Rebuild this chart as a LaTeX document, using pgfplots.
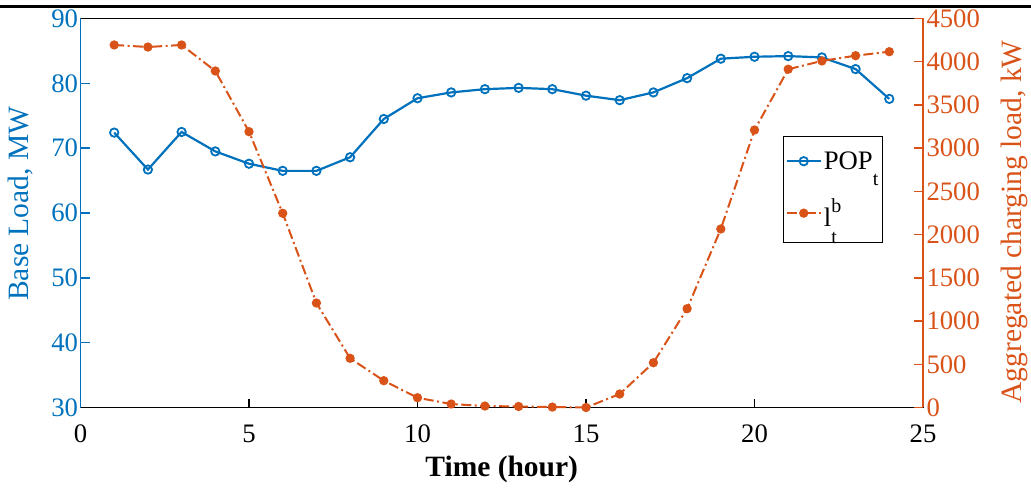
\documentclass[border=0pt]{standalone}
\usepackage{fontspec}
\setmainfont{Liberation Serif}
\usepackage{pgfplots}
\pgfplotsset{compat=1.18}
\definecolor{mblue}{rgb}{0,0.447,0.741}
\definecolor{morange}{rgb}{0.85,0.325,0.098}
\newcommand{\tfs}{\fontsize{26.7}{30}\selectfont}
\newcommand{\lfs}{\fontsize{29.5}{33}\selectfont}
\newcommand{\sfs}{\fontsize{20}{20}\selectfont}
\pgfplotstableread{
h pop
1 72.4
2 66.7
3 72.5
4 69.5
5 67.6
6 66.5
7 66.5
8 68.6
9 74.5
10 77.7
11 78.6
12 79.1
13 79.3
14 79.1
15 78.1
16 77.4
17 78.6
18 80.8
19 83.8
20 84.1
21 84.2
22 84.0
23 82.2
24 77.6
}\poptable
\pgfplotstableread{
h lb
1 4194
2 4170
3 4194
4 3893
5 3191
6 2247
7 1209
8 569
9 310
10 113
11 40
12 17
13 12
14 5
15 0
16 156
17 518
18 1143
19 2065
20 3210
21 3913
22 4009
23 4070
24 4116
}\lbtable
\begin{document}
\begin{tikzpicture}[x=1pt,y=1pt]
\path[use as bounding box] (0,0) rectangle (1031,490);
\fill[black] (0,482) rectangle (1031,485);
\begin{axis}[
  at={(80.5pt,82.5pt)}, anchor=south west,
  scale only axis, width=842.5pt, height=389pt,
  xmin=0, xmax=25, ymin=30, ymax=90,
  xtick={0,5,...,25}, ytick={30,40,...,90},
  axis x line=box, axis y line*=left,
  x axis line style={black, line width=1.4pt},
  y axis line style={mblue, line width=1.8pt},
  xtick pos=bottom, ytick pos=left,
  tick align=inside, major tick length=9pt,
  xtick style={black, line width=1.2pt},
  ytick style={mblue, line width=1.4pt},
  /pgf/number format/assume math mode=true,
  xticklabel style={font=\tfs, black, inner ysep=0pt, anchor=north, yshift=-17.5pt},
  yticklabel style={font=\tfs, mblue, xshift=1pt},
  every axis x label/.style={at={(rel axis cs:0.5,-0.16)}, anchor=center},
  every axis y label/.style={at={(rel axis cs:-0.0706,0.524)}, anchor=center, rotate=90},
  xlabel={\lfs\bfseries Time (hour)},
  ylabel={\lfs\color{mblue}Base Load, MW},
  clip=false,
]
\addplot[mblue, line width=2.2pt, mark=o, mark size=4.2pt, mark options={line width=1.8pt}] table[x=h,y=pop] {\poptable};
\end{axis}
\begin{axis}[
  at={(80.5pt,82.5pt)}, anchor=south west,
  scale only axis, width=842.5pt, height=389pt,
  xmin=0, xmax=25, ymin=0, ymax=4500,
  ytick={0,500,...,4500},
  axis x line=none, axis y line*=right,
  y axis line style={morange, line width=1.8pt},
  tick align=inside, major tick length=9pt,
  ytick style={morange, line width=1.4pt},
  scaled ticks=false,
  /pgf/number format/assume math mode=true,
  /pgf/number format/set thousands separator={},
  yticklabel style={font=\tfs, morange},
  every axis y label/.style={at={(rel axis cs:1.108,0.477)}, anchor=center, rotate=90},
  ylabel={\lfs\color{morange}Aggregated charging load, kW},
  legend style={at={(rel axis cs:0.8338,0.698)}, anchor=north west, draw=black, line width=1.3pt,
    font=\tfs, inner xsep=2pt, inner ysep=13pt, row sep=24pt, fill=white},
  legend cell align=left,
  legend image code/.code={\draw[mark repeat=2, mark phase=2, #1] plot coordinates {(0pt,0pt) (17pt,0pt) (34pt,0pt)};},
  clip=false,
]
\addlegendimage{mblue, line width=2.2pt, mark=o, mark size=4.2pt, mark options={line width=1.8pt}}
\addlegendentry{POP\raisebox{-0.6em}{\sfs t}}
\addplot[morange, line width=2pt, dash pattern=on 10pt off 3.5pt on 2pt off 3.5pt, mark=*, mark size=3.6pt, mark options={solid}] table[x=h,y=lb] {\lbtable};
\addlegendentry{l\rlap{\raisebox{0.5em}{\sfs b}}\raisebox{-0.65em}{\sfs t}}
\end{axis}
\end{tikzpicture}
\end{document}
